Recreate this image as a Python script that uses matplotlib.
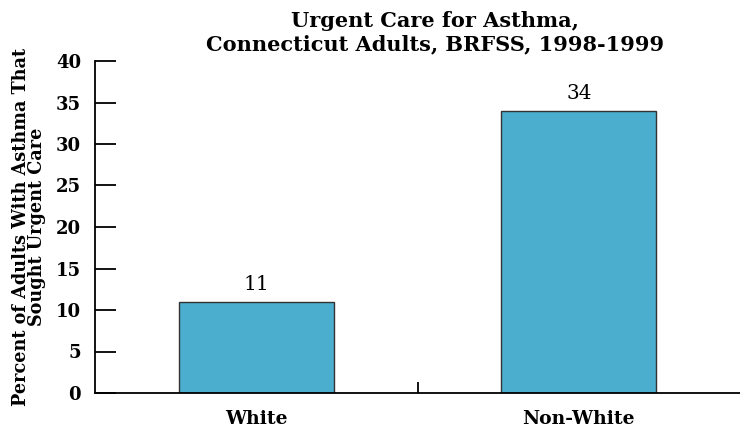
import matplotlib
matplotlib.use("Agg")
import matplotlib.pyplot as plt

# DATA
groups = ["White", "Non-White"]
percent = [11, 34]
y_ticks = [0, 5, 10, 15, 20, 25, 30, 35, 40]

plt.rcParams["font.family"] = "DejaVu Serif"
plt.rcParams["font.weight"] = "bold"

fig = plt.figure(figsize=(7.4, 4.32), dpi=100)
ax = fig.add_axes([95 / 740, 1 - 393 / 432, 645 / 740, (393 - 61) / 432])

x = list(range(len(groups)))
bars = ax.bar(x, percent, width=0.48, color="#4BAECE", edgecolor="#333333", linewidth=1.0)

for xi, v in zip(x, percent):
    ax.text(xi, v + 0.9, str(v), ha="center", va="bottom", fontsize=14.5, fontweight="normal")

ax.set_xlim(-0.5, 1.5)
ax.set_ylim(0, 40)
ax.set_yticks(y_ticks)
ax.set_xticks(x)
ax.set_xticklabels(groups, fontsize=13.5)
ax.tick_params(axis="x", length=0, pad=12)
ax.tick_params(axis="y", direction="in", length=15, width=1.3, labelsize=13, pad=10)
# divider tick between categories
ax.set_xticks([0.5], minor=True)
ax.tick_params(axis="x", which="minor", direction="in", length=8, width=1.3)

for side in ["top", "right"]:
    ax.spines[side].set_visible(False)
ax.spines["left"].set_linewidth(1.3)
ax.spines["bottom"].set_linewidth(1.3)

ax.set_ylabel("Percent of Adults With Asthma That\nSought Urgent Care", fontsize=12.7,
              fontweight="bold", linespacing=0.9, labelpad=7)

fig.text(435 / 740, 1 - 33 / 432, "Urgent Care for Asthma,\nConnecticut Adults, BRFSS, 1998-1999",
         ha="center", va="center", fontsize=15, linespacing=1.2)

fig.savefig("out.png", dpi=100)
